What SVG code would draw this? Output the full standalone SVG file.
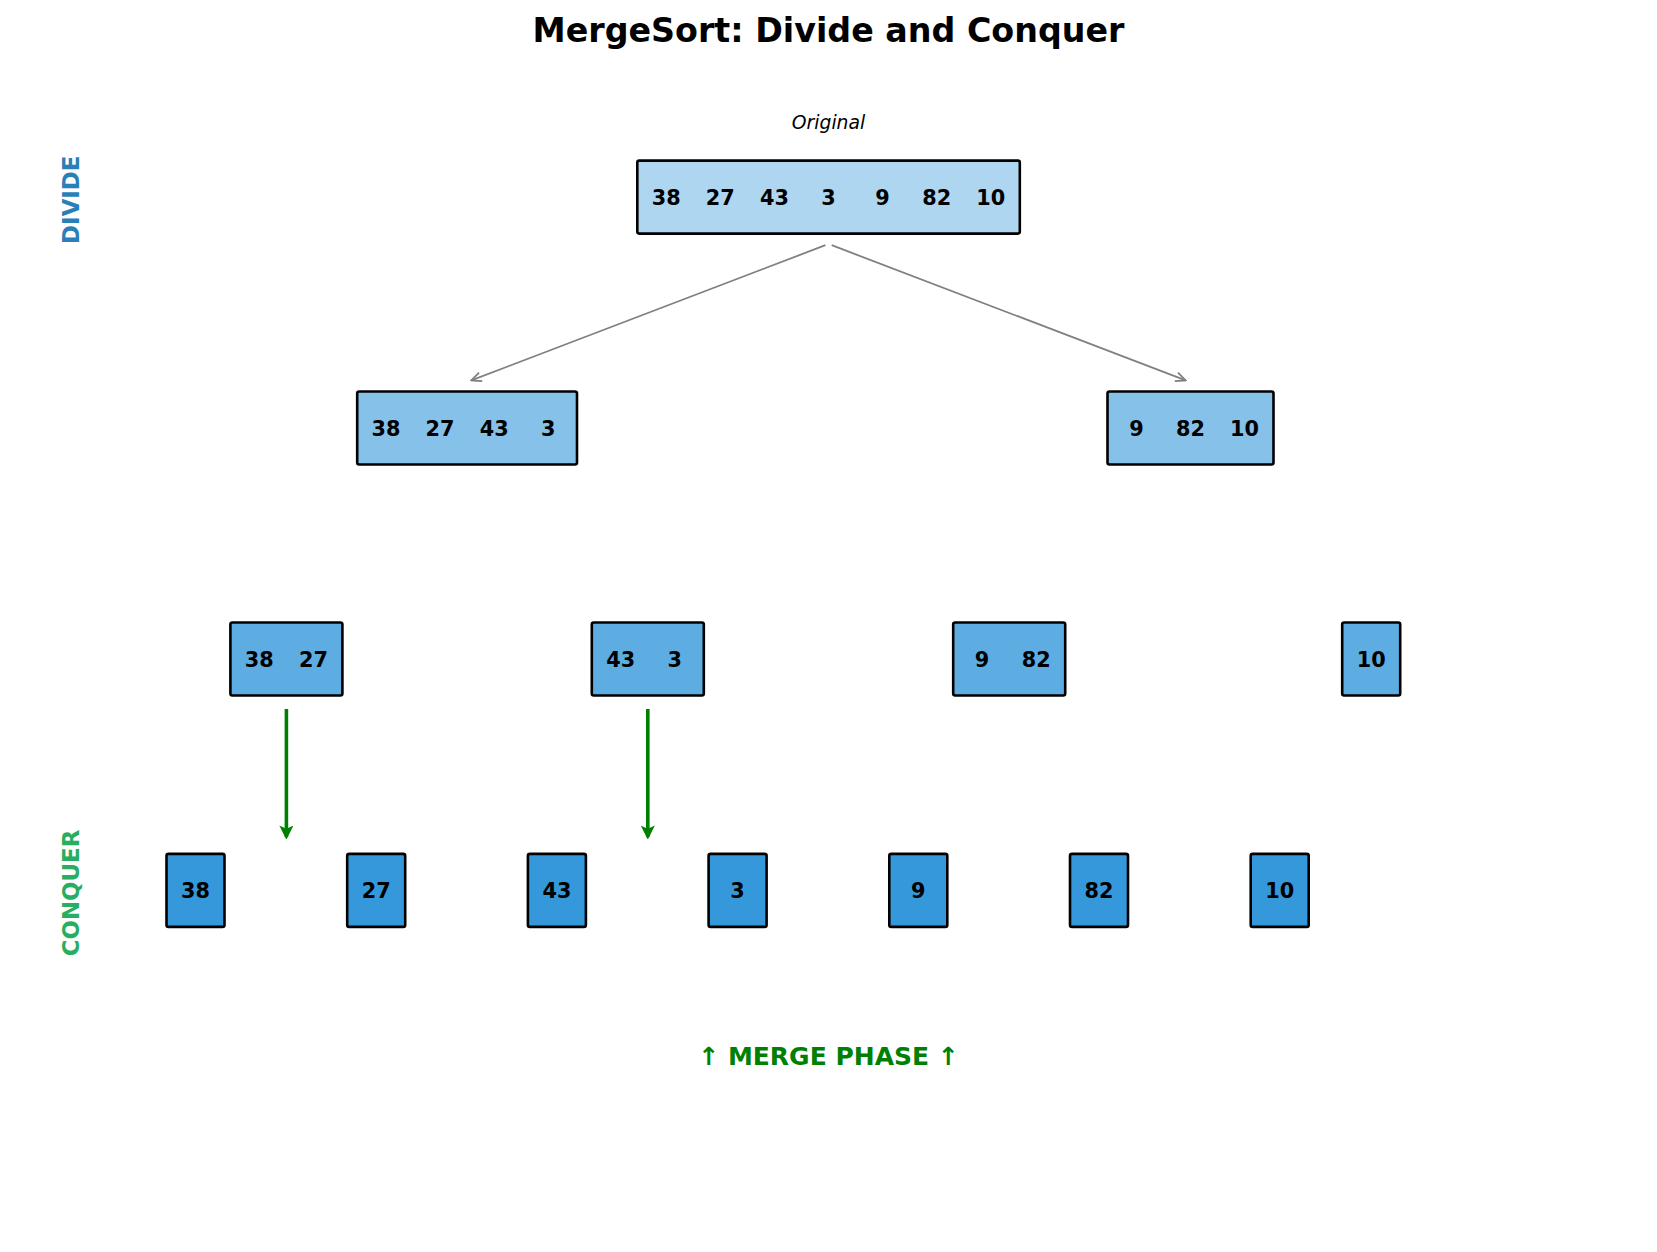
<svg xmlns="http://www.w3.org/2000/svg" width="1657" height="1252" viewBox="0 0 1657 1252">
<style>
.box{stroke:#000;stroke-width:2.6}
.l0{fill:#AED6F1}.l1{fill:#85C1E9}.l2{fill:#5DADE2}.l3{fill:#3498DB}
.num{font-family:"DejaVu Sans",sans-serif;font-weight:bold;font-size:20.8px;text-anchor:middle;fill:#000}
.gray{stroke:#808080;stroke-width:1.8;fill:none}
.green{stroke:#008000;stroke-width:3.6;fill:none}
</style>
<defs>
<marker id="ag" viewBox="0 0 12 12" refX="11" refY="6" markerWidth="12" markerHeight="12" markerUnits="userSpaceOnUse" orient="auto">
<path d="M1,1.5 L11,6 L1,10.5" fill="none" stroke="#808080" stroke-width="1.8"/>
</marker>
<marker id="agr" viewBox="0 0 14 14" refX="12" refY="7" markerWidth="14" markerHeight="14" markerUnits="userSpaceOnUse" orient="auto">
<path d="M3,2.5 L12,7 L3,11.5 L5,7 Z" fill="#008000" stroke="#008000" stroke-width="2.4" stroke-linejoin="miter"/>
</marker>
</defs>
<rect width="1657" height="1252" fill="#fff"/>
<text x="828.5" y="41.5" font-family="DejaVu Sans,sans-serif" font-weight="bold" font-size="33.3" text-anchor="middle">MergeSort: Divide and Conquer</text>
<text x="828.5" y="129.4" font-family="DejaVu Sans,sans-serif" font-style="italic" font-size="18.75" text-anchor="middle">Original</text>
<text transform="translate(79.2,199.7) rotate(-90)" font-family="DejaVu Sans,sans-serif" font-weight="bold" font-size="22.9" fill="#2980B9" text-anchor="middle">DIVIDE</text>
<text transform="translate(79.2,893) rotate(-90)" font-family="DejaVu Sans,sans-serif" font-weight="bold" font-size="22.9" fill="#27AE60" text-anchor="middle">CONQUER</text>
<text x="828.5" y="1064.8" font-family="DejaVu Sans,sans-serif" font-weight="bold" font-size="25" fill="#008000" text-anchor="middle">↑ MERGE PHASE ↑</text>
<g id="connectors">
<line class="gray" x1="825.4" y1="245.2" x2="471.3" y2="380.4" marker-end="url(#ag)"/>
<line class="gray" x1="831.7" y1="245.2" x2="1185.7" y2="380.4" marker-end="url(#ag)"/>
<line class="green" x1="286.4" y1="709" x2="286.4" y2="837" marker-end="url(#agr)"/>
<line class="green" x1="647.8" y1="709" x2="647.8" y2="837" marker-end="url(#agr)"/>
</g>
<g id="root">
<rect class="box l0" x="637.3" y="160.6" width="382.5" height="73" rx="2"/>
<text class="num" x="666.2" y="204.7">38</text><text class="num" x="720.3" y="204.7">27</text><text class="num" x="774.4" y="204.7">43</text><text class="num" x="828.5" y="204.7">3</text><text class="num" x="882.6" y="204.7">9</text><text class="num" x="936.7" y="204.7">82</text><text class="num" x="990.8" y="204.7">10</text>
</g>
<g id="l1a">
<rect class="box l1" x="357.2" y="391.5" width="219.8" height="73" rx="2"/>
<text class="num" x="386" y="435.6">38</text><text class="num" x="440.1" y="435.6">27</text><text class="num" x="494.2" y="435.6">43</text><text class="num" x="548.3" y="435.6">3</text>
</g>
<g id="l1b">
<rect class="box l1" x="1107.5" y="391.5" width="166" height="73" rx="2"/>
<text class="num" x="1136.4" y="435.6">9</text><text class="num" x="1190.5" y="435.6">82</text><text class="num" x="1244.6" y="435.6">10</text>
</g>
<g id="l2a">
<rect class="box l2" x="230.4" y="622.5" width="112" height="73" rx="2"/>
<text class="num" x="259.3" y="666.6">38</text><text class="num" x="313.4" y="666.6">27</text>
</g>
<g id="l2b">
<rect class="box l2" x="591.8" y="622.5" width="112" height="73" rx="2"/>
<text class="num" x="620.7" y="666.6">43</text><text class="num" x="674.8" y="666.6">3</text>
</g>
<g id="l2c">
<rect class="box l2" x="953.2" y="622.5" width="112" height="73" rx="2"/>
<text class="num" x="982.1" y="666.6">9</text><text class="num" x="1036.2" y="666.6">82</text>
</g>
<g id="l2d">
<rect class="box l2" x="1342.2" y="622.5" width="58" height="73" rx="2"/>
<text class="num" x="1371.2" y="666.6">10</text>
</g>
<g id="l3a"><rect class="box l3" x="166.5" y="853.9" width="58" height="73" rx="2"/><text class="num" x="195.5" y="898">38</text></g>
<g id="l3b"><rect class="box l3" x="347.2" y="853.9" width="58" height="73" rx="2"/><text class="num" x="376.2" y="898">27</text></g>
<g id="l3c"><rect class="box l3" x="527.9" y="853.9" width="58" height="73" rx="2"/><text class="num" x="556.9" y="898">43</text></g>
<g id="l3d"><rect class="box l3" x="708.6" y="853.9" width="58" height="73" rx="2"/><text class="num" x="737.6" y="898">3</text></g>
<g id="l3e"><rect class="box l3" x="889.3" y="853.9" width="58" height="73" rx="2"/><text class="num" x="918.3" y="898">9</text></g>
<g id="l3f"><rect class="box l3" x="1070" y="853.9" width="58" height="73" rx="2"/><text class="num" x="1099" y="898">82</text></g>
<g id="l3g"><rect class="box l3" x="1250.7" y="853.9" width="58" height="73" rx="2"/><text class="num" x="1279.7" y="898">10</text></g>
</svg>
